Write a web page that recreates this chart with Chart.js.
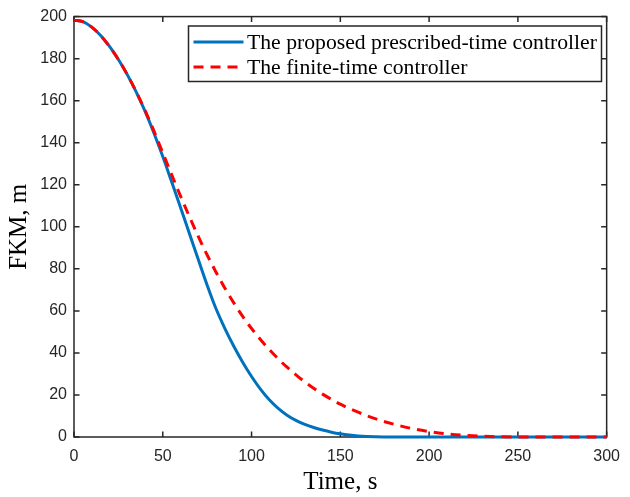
<!DOCTYPE html>
<html>
<head>
<meta charset="utf-8">
<script src="https://cdn.jsdelivr.net/npm/chart.js@4"></script>
<style>
  html, body { margin: 0; padding: 0; background: #fff; }
  canvas { display: block; }
</style>
</head>
<body>
<canvas id="fkm" width="630" height="497"></canvas>
<script>
// Temps de simulation (s)
const timeSec = [
    0, 5, 10, 15, 20, 25, 30, 35, 40, 45, 50, 55, 60, 65, 70, 75, 80, 85, 90, 95,
    100, 105, 110, 115, 120, 125, 130, 135, 140, 145, 150, 155, 160,
    170, 180, 190, 200, 210, 220, 230, 240, 250, 260, 270, 280, 290, 300
];

// FKM (m) - contrôleur à temps prescrit
const fkmPrescribed = [
    198.3, 197.6, 195.0, 191.0, 185.8, 179.6, 172.4, 164.2, 155.0, 144.6,
    133.4, 121.4, 109.2, 96.8, 84.4, 72.2, 61.0, 51.6, 43.2, 35.6,
    28.8, 22.8, 17.7, 13.6, 10.4, 7.9, 6.0, 4.5, 3.3, 2.3, 1.5, 0.9, 0.5,
    0.1, 0, 0, 0, 0, 0, 0, 0, 0, 0, 0, 0, 0, 0
];

// FKM (m) - contrôleur à temps fini
const fkmFinite = [
    198.3, 197.6, 195.0, 191.0, 185.8, 179.6, 172.4, 164.3, 155.4, 145.6,
    135.2, 124.8, 114.6, 104.8, 95.4, 86.6, 78.4, 70.8, 63.8, 57.4,
    51.6, 46.4, 41.6, 37.2, 33.2, 29.6, 26.2, 23.2, 20.4, 17.9, 15.6, 13.6, 11.8,
    8.6, 6.1, 4.1, 2.6, 1.5, 0.8, 0.35, 0.1, 0, 0, 0, 0, 0, 0
];

const seriesLabels = [
    'The proposed prescribed-time controller',
    'The finite-time controller'
];

const xTickValues = [0, 50, 100, 150, 200, 250, 300];
const yTickValues = [0, 20, 40, 60, 80, 100, 120, 140, 160, 180, 200];

const AXIS_COLOR = '#262626';
const TICK_LEN = 5.5;

const toPoints = (ys) => timeSec.map((t, i) => ({ x: t, y: ys[i] }));

// Cadre style MATLAB : boîte complète, graduations vers l'intérieur, légende encadrée
const boxedAxes = {
    id: 'boxedAxes',
    beforeDatasetsDraw(chart) {
        const { ctx, chartArea: a, scales } = chart;
        ctx.save();
        ctx.strokeStyle = AXIS_COLOR;
        ctx.lineWidth = 1.5;
        ctx.strokeRect(a.left, a.top, a.right - a.left, a.bottom - a.top);
        ctx.beginPath();
        xTickValues.forEach(v => {
            const px = scales.x.getPixelForValue(v);
            ctx.moveTo(px, a.bottom);
            ctx.lineTo(px, a.bottom - TICK_LEN);
            ctx.moveTo(px, a.top);
            ctx.lineTo(px, a.top + TICK_LEN);
        });
        yTickValues.forEach(v => {
            const py = scales.y.getPixelForValue(v);
            ctx.moveTo(a.left, py);
            ctx.lineTo(a.left + TICK_LEN, py);
            ctx.moveTo(a.right, py);
            ctx.lineTo(a.right - TICK_LEN, py);
        });
        ctx.stroke();
        ctx.restore();
    },
    afterDraw(chart) {
        const { ctx } = chart;
        const box = { x: 188.5, y: 26, w: 413, h: 55.5 };
        ctx.save();
        ctx.fillStyle = '#ffffff';
        ctx.fillRect(box.x, box.y, box.w, box.h);
        ctx.strokeStyle = AXIS_COLOR;
        ctx.lineWidth = 1.5;
        ctx.strokeRect(box.x, box.y, box.w, box.h);

        ctx.font = '21.7px "Liberation Serif", "Times New Roman", serif';
        ctx.textBaseline = 'middle';
        ctx.fillStyle = '#000000';
        chart.data.datasets.forEach((ds, i) => {
            const rowY = 42 + i * 25;
            ctx.beginPath();
            ctx.strokeStyle = ds.borderColor;
            ctx.lineWidth = ds.borderWidth;
            ctx.setLineDash(ds.borderDash || []);
            ctx.moveTo(193.5, rowY);
            ctx.lineTo(243.5, rowY);
            ctx.stroke();
            ctx.setLineDash([]);
            ctx.fillText(ds.label, 247, rowY + 1);
        });
        ctx.restore();
    }
};

const tickFont = { family: '"Liberation Sans", Arial, sans-serif', size: 16 };
const titleFont = { family: '"Liberation Serif", "Times New Roman", serif', size: 25 };

new Chart(document.getElementById('fkm'), {
    type: 'line',
    data: {
        datasets: [
            {
                label: seriesLabels[0],
                data: toPoints(fkmPrescribed),
                borderColor: '#0072BD',
                borderWidth: 3,
                pointRadius: 0,
                cubicInterpolationMode: 'monotone',
                clip: 4,
                order: 2
            },
            {
                label: seriesLabels[1],
                data: toPoints(fkmFinite),
                borderColor: '#FF0000',
                borderWidth: 3,
                borderDash: [10, 7],
                pointRadius: 0,
                cubicInterpolationMode: 'monotone',
                clip: 4,
                order: 1
            }
        ]
    },
    options: {
        responsive: false,
        animation: false,
        layout: { padding: { left: 0, right: 16, top: 16, bottom: 0 } },
        plugins: {
            legend: { display: false },
            tooltip: { enabled: false }
        },
        scales: {
            x: {
                type: 'linear',
                min: 0,
                max: 300,
                afterBuildTicks: (scale) => { scale.ticks = xTickValues.map(v => ({ value: v })); },
                afterFit: (scale) => { scale.height = 60; },
                grid: { display: false, drawTicks: false },
                border: { display: false },
                ticks: { color: AXIS_COLOR, font: tickFont, padding: 10, maxRotation: 0 },
                title: {
                    display: true,
                    text: 'Time, s',
                    color: '#000000',
                    font: titleFont,
                    padding: { top: 0, bottom: 0 }
                }
            },
            y: {
                min: 0,
                max: 200,
                afterBuildTicks: (scale) => { scale.ticks = yTickValues.map(v => ({ value: v })); },
                afterFit: (scale) => { scale.width = 74; },
                grid: { display: false, drawTicks: false },
                border: { display: false },
                ticks: { color: AXIS_COLOR, font: tickFont, padding: 7 },
                title: {
                    display: true,
                    text: 'FKM, m',
                    color: '#000000',
                    font: titleFont,
                    padding: { top: 4, bottom: 0 }
                }
            }
        }
    },
    plugins: [boxedAxes]
});
</script>
</body>
</html>
